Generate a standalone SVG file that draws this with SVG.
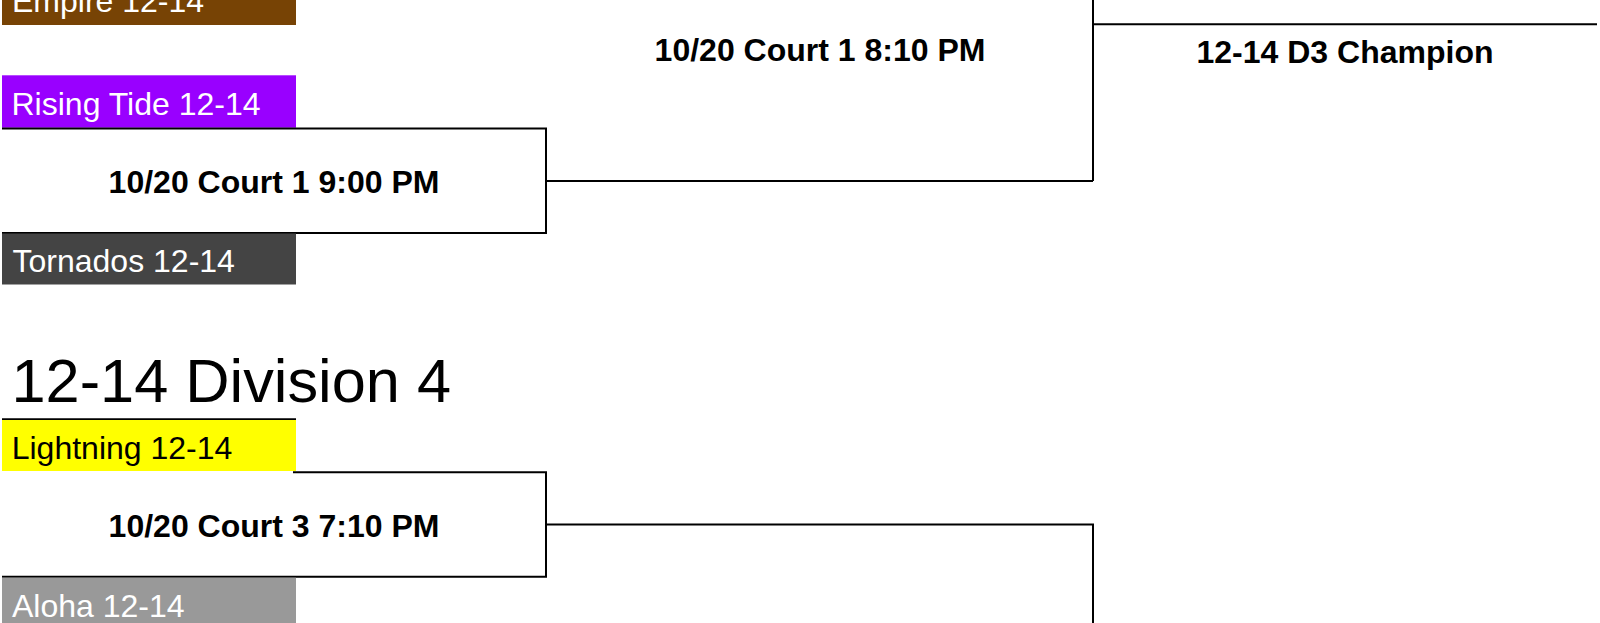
<svg xmlns="http://www.w3.org/2000/svg" width="1600" height="623" viewBox="0 0 1600 623">
<style>
.team{font-family:"Liberation Sans",Arial,sans-serif;font-size:32px;fill:#fff}
.dark{fill:#000}
.match{font-family:"Liberation Sans",Arial,sans-serif;font-size:32px;font-weight:bold;fill:#000;text-anchor:middle}
.head{font-family:"Liberation Sans",Arial,sans-serif;font-size:61.3px;fill:#000}
.ln{fill:none;stroke:#000;stroke-width:2;stroke-linejoin:miter}
</style>
<rect x="0" y="0" width="1600" height="623" fill="#fff"/>
<g id="connectors">
<path class="ln" d="M546,-132 H1093 V181"/>
<path class="ln" d="M546,181 H1093"/>
<path class="ln" d="M1093,24.3 H1597"/>
<path class="ln" d="M2,419.3 H296"/>
<path class="ln" d="M546,524.5 H1093 V640"/>
</g>
<g id="team-empire">
<rect x="2" y="-27" width="294" height="52" fill="#774305"/>
<text class="team" x="12" y="12">Empire 12-14</text>
</g>
<g id="team-rising-tide">
<rect x="2" y="75.3" width="294" height="52.4" fill="#9900ff"/>
<text class="team" x="11.5" y="115">Rising Tide 12-14</text>
</g>
<g id="match-d3-r1">
<path class="ln" d="M2,128.5 H546 V233 H2"/>
<text class="match" x="274" y="192.7">10/20 Court 1 9:00 PM</text>
</g>
<g id="team-tornados">
<rect x="2" y="233.5" width="294" height="51" fill="#444444"/>
<text class="team" x="12.5" y="271.7">Tornados 12-14</text>
</g>
<g id="match-d3-final">
<text class="match" x="820" y="60.7">10/20 Court 1 8:10 PM</text>
</g>
<g id="champion-d3">
<text class="match" x="1345" y="63.3">12-14 D3 Champion</text>
</g>
<g id="header-d4">
<text class="head" x="11.5" y="401.7">12-14 Division 4</text>
</g>
<g id="team-lightning">
<rect x="2" y="420" width="294" height="51" fill="#ffff00"/>
<text class="team dark" x="11.7" y="459.3">Lightning 12-14</text>
</g>
<g id="match-d4-r1">
<path class="ln" d="M293,472.3 H546 V576.7 H2"/>
<text class="match" x="274" y="536.7">10/20 Court 3 7:10 PM</text>
</g>
<g id="team-aloha">
<rect x="2" y="577.7" width="294" height="52" fill="#999999"/>
<text class="team" x="12" y="616.7">Aloha 12-14</text>
</g>
</svg>
